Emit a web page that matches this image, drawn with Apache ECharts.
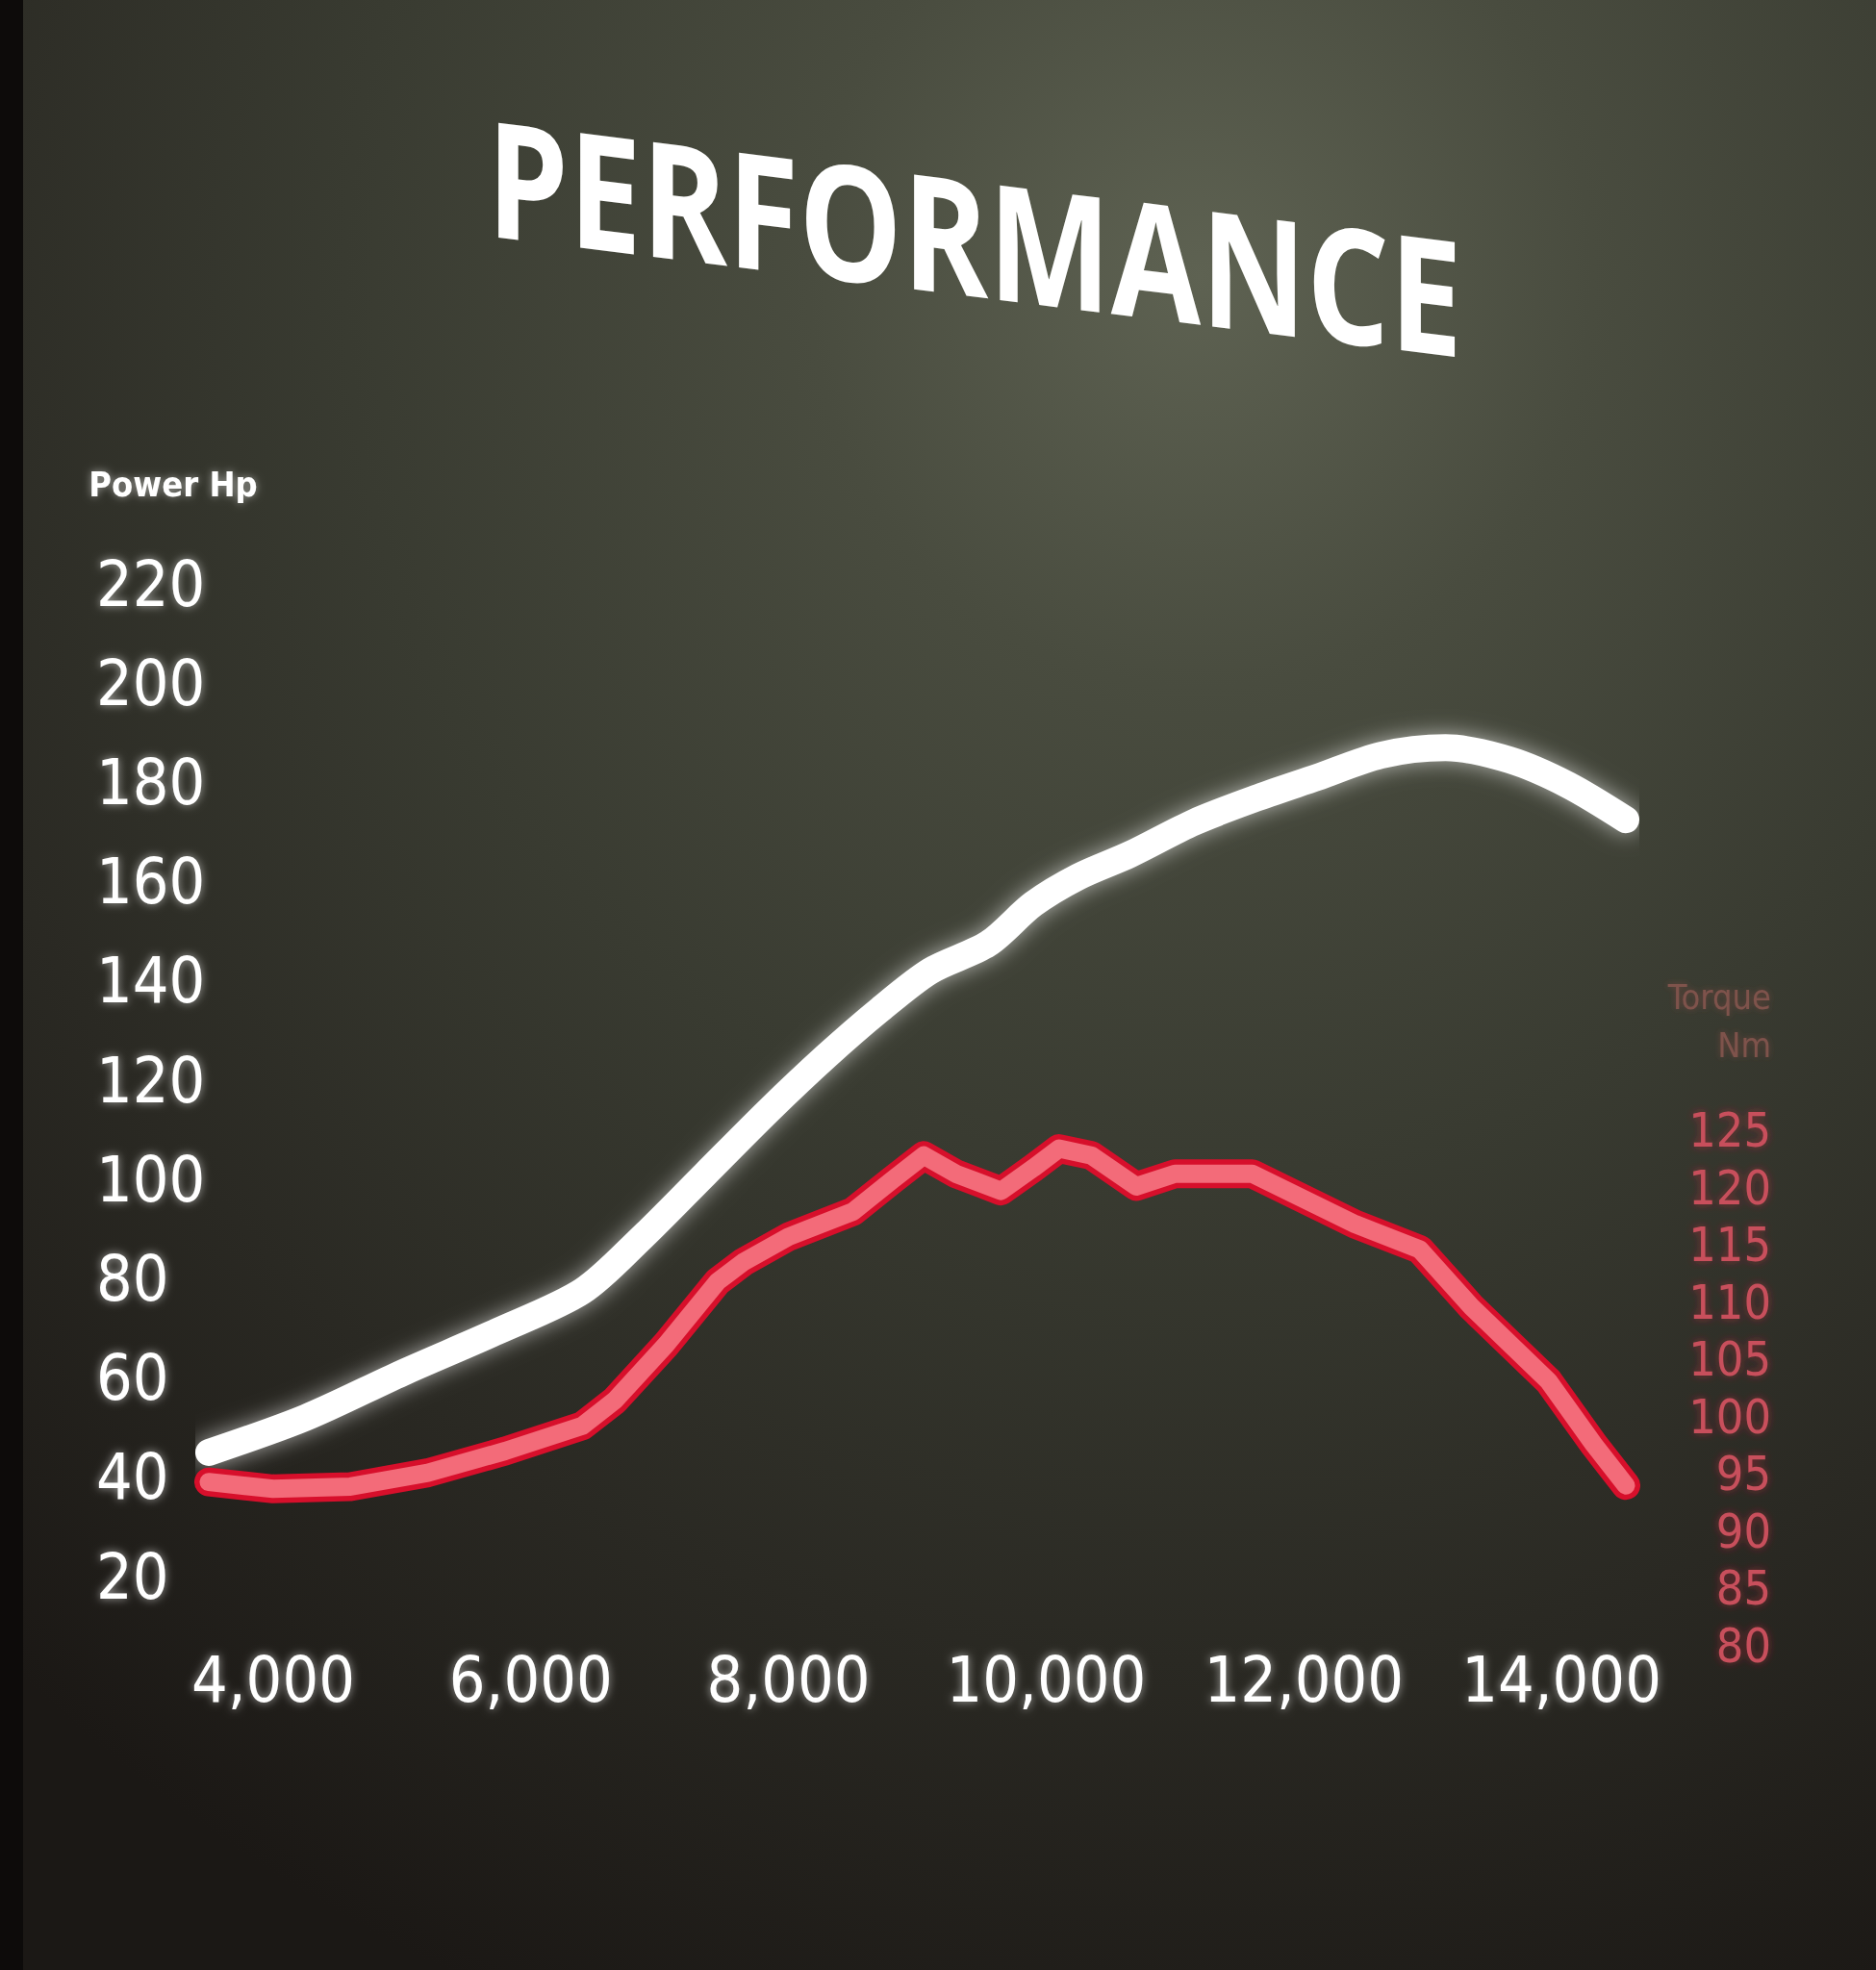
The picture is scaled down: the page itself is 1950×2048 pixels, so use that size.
<!DOCTYPE html>
<html><head><meta charset="utf-8">
<script src="https://cdn.jsdelivr.net/npm/echarts@6/dist/echarts.min.js"></script>
<style>html,body{margin:0;padding:0;background:#1c1915}#c{width:1950px;height:2048px}</style>
</head><body><div id="c"></div>
<script>
const titleText = 'PERFORMANCE';
const powerAxisName = 'Power Hp';
const torqueAxisName = 'Torque\nNm';
const rpmTicks = [4000, 6000, 8000, 10000, 12000, 14000];
const powerTicks = [20, 40, 60, 80, 100, 120, 140, 160, 180, 200, 220];
const torqueTicks = [80, 85, 90, 95, 100, 105, 110, 115, 120, 125];

const powerRpm = [3500, 4250, 5000, 5750, 6400, 6850, 7350, 7850, 8300, 8700, 9100, 9550, 9900, 10250, 10650, 11150, 11650, 12100, 12600, 13100, 13600, 14050, 14500];
const powerHp  = [45, 52, 61, 69.5, 77.5, 88, 101, 114, 125, 134, 142, 147.5, 155.5, 161, 165.5, 172, 177, 181, 185.5, 187, 184.5, 179.5, 172.5];

const torqueRpm = [3500, 4000, 4600, 5200, 5800, 6400, 6650, 7050, 7450, 7650, 8000, 8500, 8800, 9050, 9300, 9650, 9900, 10100, 10350, 10700, 11000, 11600, 12000, 12400, 12900, 13300, 13900, 14250, 14500];
const torqueNm  = [94.3, 93.7, 93.9, 95.1, 97, 99.2, 101.4, 106.3, 111.8, 113.5, 115.7, 117.9, 120.6, 122.8, 121.2, 119.7, 121.7, 123.4, 122.8, 120.1, 121.2, 121.2, 119, 116.8, 114.6, 109.6, 103.1, 97.6, 94];

const powerData = powerRpm.map((r, i) => [r, powerHp[i]]);
const torqueData = torqueRpm.map((r, i) => [r, torqueNm[i]]);

const chart = echarts.init(document.getElementById('c'), null, {renderer: 'svg'});
const numFont = '"DejaVu Sans Condensed", "Liberation Sans Narrow", sans-serif';

chart.setOption({
  backgroundColor: {
    type: 'radial', x: 0.64, y: 0.14, r: 0.95,
    colorStops: [
      {offset: 0, color: '#5e6252'},
      {offset: 0.22, color: '#494c3f'},
      {offset: 0.48, color: '#393b31'},
      {offset: 0.74, color: '#2a2923'},
      {offset: 1, color: '#1b1815'}
    ]
  },
  animation: false,
  graphic: [
    {type: 'rect', left: 0, top: 0, shape: {width: 24, height: 2048}, style: {fill: '#0d0b0a'}, silent: true},
    {
      type: 'text', x: 1013, y: 244, skewY: -0.124, scaleX: 0.81, scaleY: 1,
      style: {
        text: titleText, fill: '#ffffff', align: 'center', verticalAlign: 'middle',
        font: 'bold 167px "Open Sans", sans-serif',
        shadowColor: 'rgba(255,255,255,0.55)', shadowBlur: 18
      }
    }
  ],
  grid: [
    {left: 217, right: 260, top: 607, bottom: 409},
    {left: 217, right: 260, top: 1175, bottom: 337}
  ],
  xAxis: [
    {
      type: 'value', gridIndex: 0, min: 3500, max: 14500,
      axisLine: {show: false}, axisTick: {show: false}, splitLine: {show: false},
      axisLabel: {
        customValues: rpmTicks, margin: 74,
        color: '#ffffff', fontSize: 66, fontFamily: numFont,
        textShadowColor: 'rgba(255,255,255,0.6)', textShadowBlur: 10,
        formatter: v => v.toLocaleString('en-US')
      }
    },
    {type: 'value', gridIndex: 1, min: 3500, max: 14500, show: false}
  ],
  yAxis: [
    {
      type: 'value', gridIndex: 0, min: 20, max: 220, interval: 20,
      name: powerAxisName, nameLocation: 'end', nameGap: 86,
      nameTextStyle: {color: '#ffffff', fontSize: 36, fontWeight: 'bold', fontFamily: numFont, align: 'center', padding: [0, 74, 0, 0],
        textShadowColor: 'rgba(255,255,255,0.5)', textShadowBlur: 8},
      axisLine: {show: false}, axisTick: {show: false}, splitLine: {show: false},
      axisLabel: {
        customValues: powerTicks, align: 'left', margin: 117,
        color: '#ffffff', fontSize: 66, fontFamily: numFont,
        textShadowColor: 'rgba(255,255,255,0.6)', textShadowBlur: 10
      }
    },
    {
      type: 'value', gridIndex: 1, min: 80, max: 125, interval: 5, position: 'right', offset: 151,
      name: torqueAxisName, nameLocation: 'end', nameGap: 64,
      nameTextStyle: {color: '#7e524c', fontSize: 36, fontFamily: numFont, align: 'right', lineHeight: 50,
        textShadowColor: 'rgba(120,70,60,0.8)', textShadowBlur: 6},
      axisLine: {show: false}, axisTick: {show: false}, splitLine: {show: false},
      axisLabel: {
        customValues: torqueTicks, align: 'right', margin: 0,
        color: '#c8505c', fontSize: 50, fontFamily: numFont,
        textShadowColor: 'rgba(200,40,60,0.6)', textShadowBlur: 8
      }
    }
  ],
  series: [
    {
      name: 'Power', type: 'line', xAxisIndex: 0, yAxisIndex: 0, data: powerData,
      smooth: 0.3, showSymbol: false,
      lineStyle: {color: '#ffffff', width: 28, cap: 'round', join: 'round', shadowColor: 'rgba(255,255,255,0.6)', shadowBlur: 22}
    },
    {
      name: 'Torque', type: 'line', xAxisIndex: 1, yAxisIndex: 1, data: torqueData,
      showSymbol: false,
      lineStyle: {color: '#d70f2b', width: 30, cap: 'round', join: 'round'}
    },
    {
      name: 'Torque core', type: 'line', xAxisIndex: 1, yAxisIndex: 1, data: torqueData,
      showSymbol: false,
      lineStyle: {color: '#f36b79', width: 19, cap: 'round', join: 'round'}
    }
  ]
});
</script>
</body></html>
